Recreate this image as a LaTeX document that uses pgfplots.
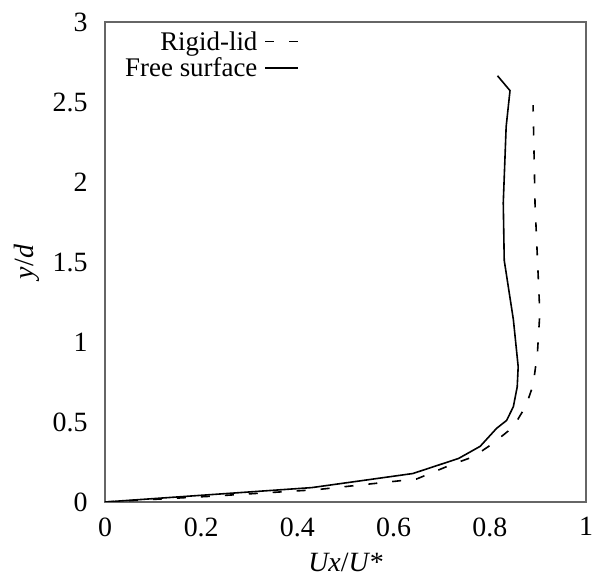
\documentclass[border=0pt]{standalone}
\usepackage{fontspec}
\setmainfont{Liberation Serif}
\usepackage{pgfplots}
\pgfplotsset{compat=1.18}

\begin{document}
\begin{tikzpicture}
\begin{axis}[
    scale only axis,
    width=481bp, height=480bp,
    xmin=0, xmax=1, ymin=0, ymax=3,
    xtick={0,0.2,0.4,0.6,0.8,1},
    ytick={0,0.5,1,1.5,2,2.5,3},
    major tick length=0pt,
    axis line style={draw=black!60, line width=1.5bp},
    /pgf/number format/assume math mode=true,
    tick label style={font=\fontsize{28}{32}\selectfont},
    xticklabel style={yshift=-12bp},
    yticklabel style={xshift=-14bp},
    xlabel={\textit{Ux}/\textit{U*}},
    ylabel={\textit{y}/\textit{d}},
    label style={font=\fontsize{28}{32}\selectfont},
    xlabel style={yshift=-10bp},
    ylabel style={yshift=6bp},
    legend style={at={(0.41,0.985)}, anchor=north east, draw=none, fill=none,
        font=\fontsize{27}{31}\selectfont, row sep=6bp,
        nodes={inner xsep=7bp, inner ysep=0bp}},
    legend cell align=right,
    legend plot pos=right,
    legend image code/.code={\draw[#1] (0bp,0bp) -- (33bp,0bp);},
]
\addplot[black, line width=1.6bp, dash pattern=on 9bp off 15bp] coordinates {
    (0,0) (0.215,0.035) (0.44,0.077) (0.648,0.144) (0.72,0.233) (0.766,0.283)
    (0.807,0.367) (0.849,0.47) (0.875,0.6) (0.89,0.73) (0.899,0.93)
    (0.904,1.18) (0.894,1.867) (0.89,2.48)
};
\addlegendentry{Rigid-lid}
\addplot[black, line width=1.6bp] coordinates {
    (0,0) (0.43,0.09) (0.64,0.178) (0.735,0.272) (0.78,0.348) (0.814,0.46)
    (0.835,0.51) (0.849,0.596) (0.857,0.72) (0.859,0.846) (0.849,1.14)
    (0.83,1.51) (0.828,1.87) (0.834,2.346) (0.842,2.571) (0.816,2.664)
};
\addlegendentry{Free surface}
\end{axis}
\pgfresetboundingbox
\path (-105bp,-80bp) rectangle (496bp,502bp);
\end{tikzpicture}
\end{document}
